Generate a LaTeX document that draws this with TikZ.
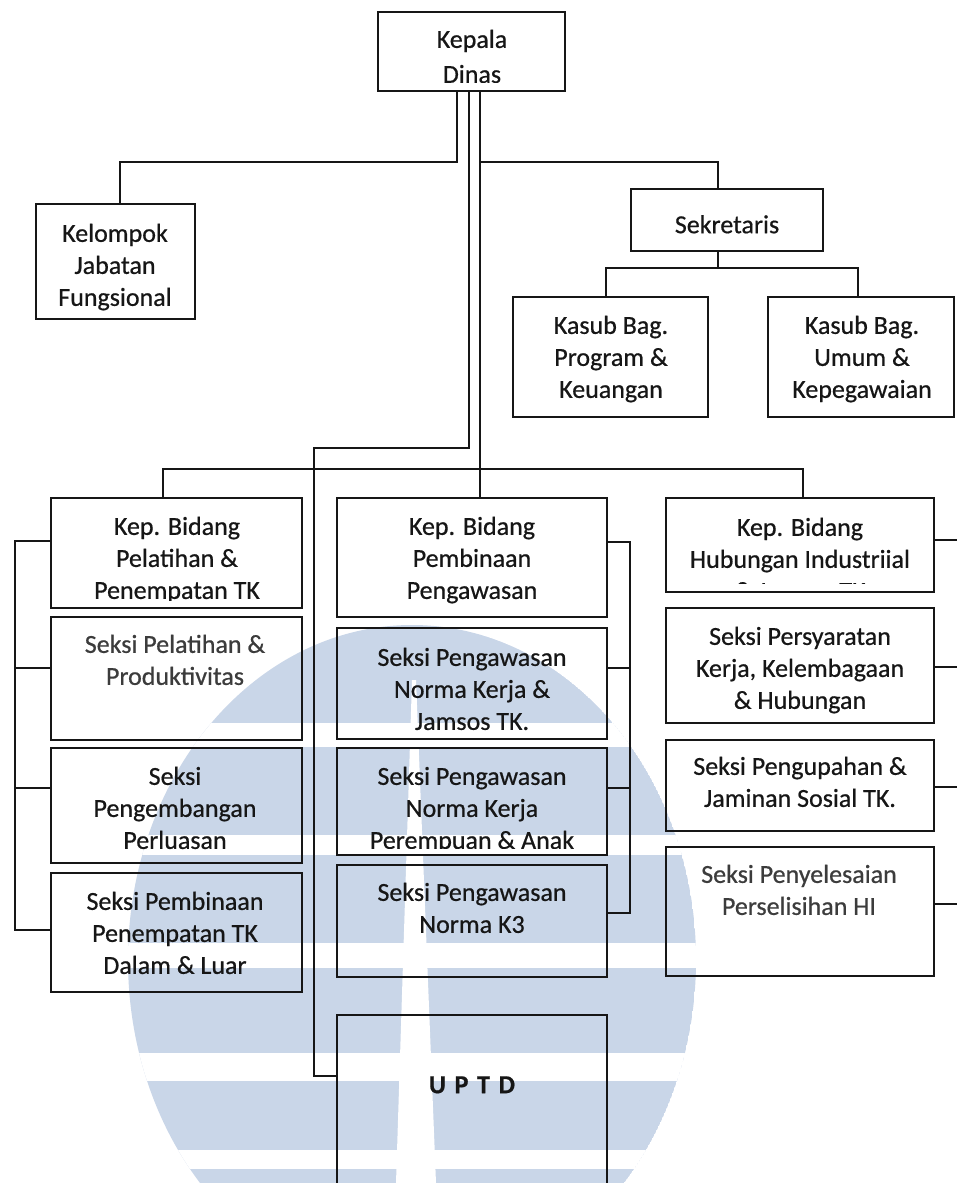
\documentclass[tikz,border=0pt]{standalone}
\usepackage{fontspec}
\setmainfont{Carlito}[FakeBold=0.6]
\usetikzlibrary{calc}
\definecolor{wm}{RGB}{201,214,232}
\definecolor{ink}{RGB}{22,22,22}
\definecolor{inksoft}{RGB}{60,60,60}
\begin{document}
\begin{tikzpicture}[x=1pt,y=-1pt,
  box/.style={draw=ink, line width=2.3pt, inner sep=0pt, outer sep=0pt},
  conn/.style={draw=ink, line width=2.2pt},
  lbl/.style={font=\fontsize{26}{32}\selectfont, align=center, anchor=north,
              inner sep=0pt, text=ink, yshift=-6pt, execute at begin node=\strut}]

% page and background
\useasboundingbox (0,0) rectangle (956,1183);
\fill[white] (0,0) rectangle (956,1183);

% faint round emblem behind the lower part
\begin{scope}
  \clip (412,960) ellipse [x radius=284, y radius=335];
  \fill[wm] (412,960) ellipse [x radius=284, y radius=335];
  \fill[white] (100,723) rectangle (720,747);
  \fill[white] (100,835) rectangle (720,855);
  \fill[white] (100,943) rectangle (720,968);
  \fill[white] (100,1053) rectangle (720,1081);
  \fill[white] (100,1150) rectangle (720,1169);
  \fill[white] (412,680) -- (416,680) -- (436,1183) -- (396,1183) -- cycle;
\end{scope}

% boxes
\node[box, minimum width=187, minimum height=79]  (kd)   at (471.5,51.5)  {};
\node[box, minimum width=159, minimum height=115] (kjf)  at (115.5,261.5) {};
\node[box, minimum width=192, minimum height=62]  (sek)  at (727,220)     {};
\node[box, minimum width=195, minimum height=120] (kpk)  at (610.5,357)   {};
\node[box, minimum width=186, minimum height=120] (kuk)  at (861,357)     {};

\node[box, minimum width=251, minimum height=110] (b1)   at (176.5,553)   {};
\node[box, minimum width=251, minimum height=123] (s11)  at (176.5,678.5) {};
\node[box, minimum width=251, minimum height=115] (s12)  at (176.5,805.5) {};
\node[box, minimum width=251, minimum height=119] (s13)  at (176.5,932.5) {};

\node[box, minimum width=270, minimum height=119] (b2)   at (472,557.5)   {};
\node[box, minimum width=270, minimum height=111] (s21)  at (472,683.5)   {};
\node[box, minimum width=270, minimum height=107] (s22)  at (472,801.5)   {};
\node[box, minimum width=270, minimum height=112] (s23)  at (472,921)     {};
\node[box, minimum width=270, minimum height=185] (uptd) at (472,1107.5)  {};

\node[box, minimum width=268, minimum height=94]  (b3)   at (800,545)     {};
\node[box, minimum width=268, minimum height=115] (s31)  at (800,665.5)   {};
\node[box, minimum width=268, minimum height=91]  (s32)  at (800,785.5)   {};
\node[box, minimum width=268, minimum height=129] (s33)  at (800,911.5)   {};

% junction points of the connectors
\coordinate (tapA) at ($(kd.south)+(-14.5,0)$);
\coordinate (tapB) at ($(kd.south)+(-2.5,0)$);
\coordinate (tapC) at ($(kd.south)+(8.5,0)$);
\coordinate (jkjf) at (120,162);
\coordinate (jsek) at (718,162);
\coordinate (jK1)  at (606,268);
\coordinate (jK2)  at (858,268);
\coordinate (jU1)  at (314,448);
\coordinate (jU2)  at (314,1076);
\coordinate (jB1)  at (163,469);
\coordinate (jB2)  at (803,469);
\coordinate (lb1) at (15,541);  \coordinate (lb2) at (15,668);
\coordinate (lb3) at (15,788);  \coordinate (lb4) at (15,930);
\coordinate (mb1) at (630,542); \coordinate (mb2) at (630,668);
\coordinate (mb3) at (630,788); \coordinate (mb4) at (630,913);
\coordinate (rb1) at (962,540); \coordinate (rb2) at (962,667);
\coordinate (rb3) at (962,787); \coordinate (rb4) at (962,904);

% connectors from the head of office
\draw[conn] (tapA) |- (jkjf) -- (kjf.north -| jkjf);
\draw[conn] (tapC) -- (b2.north -| tapC);
\draw[conn] (tapC |- jsek) -- (jsek) -- (sek.north -| jsek);
\draw[conn] (tapB) |- (jU1) -- (jU2) -- (uptd.west |- jU2);

% secretary branch
\draw[conn] (sek.south -| jsek) -- (jsek |- jK1);
\draw[conn] (kpk.north -| jK1) |- (jK2) -- (kuk.north -| jK2);

% bus to the three divisions
\draw[conn] (b1.north -| jB1) |- (jB2) -- (b3.north -| jB2);

% side brackets of the divisions
\draw[conn] (b1.west |- lb1) -- (lb1) -- (lb4) -- (s13.west |- lb4);
\draw[conn] (lb2) -- (s11.west |- lb2);
\draw[conn] (lb3) -- (s12.west |- lb3);

\draw[conn] (b2.east |- mb1) -- (mb1) -- (mb4) -- (s23.east |- mb4);
\draw[conn] (mb2) -- (s21.east |- mb2);
\draw[conn] (mb3) -- (s22.east |- mb3);

\draw[conn] (b3.east |- rb1) -- (rb1) -- (rb4) -- (s33.east |- rb4);
\draw[conn] (rb2) -- (s31.east |- rb2);
\draw[conn] (rb3) -- (s32.east |- rb3);

% labels
\begin{scope}
  \clip (kd.north west) rectangle ($(kd.south east)+(0,-9)$);
  \node[lbl] (tkd) at (472,23.6) {Kepala\\[3pt]Dinas};
\end{scope}
\node[lbl] (tkjf) at (115,217.6) {Kelompok\\Jabatan\\Fungsional};
\node[lbl] (tsek) at (727,204.6) {Sekretaris};
\node[lbl] (tkpk) at (611,309.6) {Kasub Bag.\\Program \&\\Keuangan};
\node[lbl] (tkuk) at (862,309.6) {Kasub Bag.\\Umum \&\\Kepegawaian};

\begin{scope}
  \clip (b1.north west) rectangle ($(b1.south east)+(0,-8)$);
  \node[lbl] (tb1) at (177,510.6) {Kep. Bidang\\Pelatihan \&\\Penempatan TK};
\end{scope}
\node[lbl] (tb2) at (472,510.6) {Kep. Bidang\\Pembinaan\\Pengawasan};
\begin{scope}
  \clip (b3.north west) rectangle ($(b3.south east)+(0,-9)$);
  \node[lbl] (tb3) at (800,511.6) {Kep. Bidang\\Hubungan Industriial\\\& Jamsos TK};
\end{scope}

\node[lbl, text=inksoft] (ts11) at (175,628.6) {Seksi Pelatihan \&\\Produktivitas};
\node[lbl] (ts12) at (175,760.6) {Seksi\\Pengembangan\\Perluasan};
\node[lbl] (ts13) at (175,885.6) {Seksi Pembinaan\\Penempatan TK\\Dalam \& Luar};

\node[lbl] (ts21) at (472,641.6) {Seksi Pengawasan\\Norma Kerja \&\\Jamsos TK.};
\begin{scope}
  \clip (s22.north west) rectangle ($(s22.south east)+(0,-7)$);
  \node[lbl] (ts22) at (472,760.6) {Seksi Pengawasan\\Norma Kerja\\Perempuan \& Anak};
\end{scope}
\node[lbl] (ts23) at (472,876.6) {Seksi Pengawasan\\Norma K3};
\node[lbl, font=\fontsize{26}{32}\selectfont\bfseries] (tuptd) at (472,1064.6) {U\,\,P\,\,T\,\,D};

\node[lbl] (ts31) at (800,620.6) {Seksi Persyaratan\\Kerja, Kelembagaan\\\& Hubungan};
\node[lbl] (ts32) at (800,750.6) {Seksi Pengupahan \&\\Jaminan Sosial TK.};
\node[lbl, text=inksoft] (ts33) at (799,858.6) {Seksi Penyelesaian\\Perselisihan HI};

\end{tikzpicture}
\end{document}
